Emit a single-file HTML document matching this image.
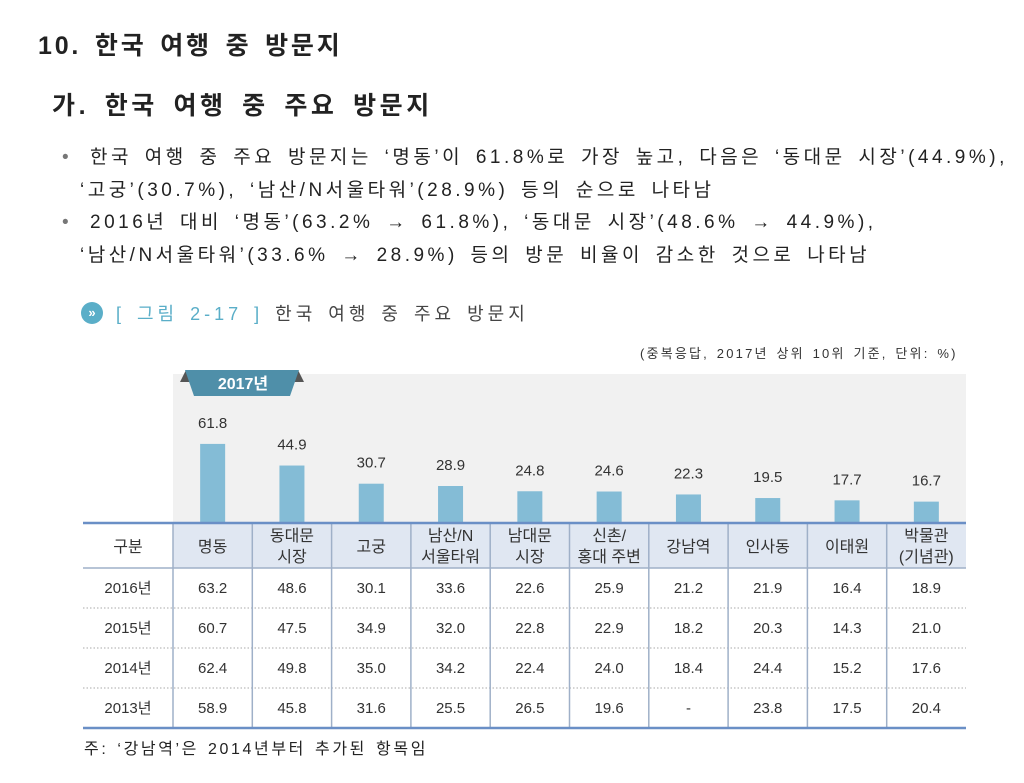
<!DOCTYPE html>
<html><head><meta charset="utf-8">
<style>
body{margin:0;width:1024px;height:783px;background:#fff;font-family:"Liberation Sans","Noto Sans CJK KR",sans-serif;color:#222;position:relative;overflow:hidden}
.a{position:absolute;white-space:nowrap}
</style></head><body>
<div class="a" style="left:38px;top:26px;font-size:25px;font-weight:bold;letter-spacing:2.8px;word-spacing:4px">10. 한국 여행 중 방문지</div>
<div class="a" style="left:52px;top:86px;font-size:25px;font-weight:bold;letter-spacing:3.6px;word-spacing:5px">가. 한국 여행 중 주요 방문지</div>
<div class="a" style="left:62px;top:141px;font-size:19px;line-height:33px;color:#777">•</div>
<div class="a" style="left:90px;top:141px;font-size:19px;line-height:33px;letter-spacing:3.5px;word-spacing:4px">한국 여행 중 주요 방문지는 ‘명동’이 61.8%로 가장 높고, 다음은 ‘동대문 시장’(44.9%),<br><span style="margin-left:-10px">‘고궁’(30.7%), ‘남산/N서울타워’(28.9%) 등의 순으로 나타남</span></div>
<div class="a" style="left:62px;top:206px;font-size:19px;line-height:33px;color:#777">•</div>
<div class="a" style="left:90px;top:206px;font-size:19px;line-height:33px;letter-spacing:3.5px;word-spacing:4px">2016년 대비 ‘명동’(63.2% → 61.8%), ‘동대문 시장’(48.6% → 44.9%),<br><span style="margin-left:-10px">‘남산/N서울타워’(33.6% → 28.9%) 등의 방문 비율이 감소한 것으로 나타남</span></div>
<div class="a" style="left:81px;top:302px;width:22px;height:22px;border-radius:50%;background:#5aaec8;color:#fff;font-size:13px;font-weight:bold;text-align:center;line-height:22px">»</div>
<div class="a" style="left:116px;top:300px;font-size:18px;color:#5aaec8;letter-spacing:4px;word-spacing:3px">[ 그림 2-17 ] <span style="color:#444">한국 여행 중 주요 방문지</span></div>
<div class="a" style="left:640px;top:343px;font-size:13px;color:#333;letter-spacing:2.2px;word-spacing:2px">(중복응답, 2017년 상위 10위 기준, 단위: %)</div>
<svg class="a" style="left:0;top:0" width="1024" height="783" id="svg"></svg>
<div class="a" style="left:84px;top:735px;font-size:16px;color:#222;letter-spacing:2.6px;word-spacing:2px">주: ‘강남역’은 2014년부터 추가된 항목임</div>
<script>
const categories=[["명동"],["동대문","시장"],["고궁"],["남산/N","서울타워"],["남대문","시장"],["신촌/","홍대 주변"],["강남역"],["인사동"],["이태원"],["박물관","(기념관)"]];
const values2017=[61.8,44.9,30.7,28.9,24.8,24.6,22.3,19.5,17.7,16.7];
const years=["2016년","2015년","2014년","2013년"];
const v2016=["63.2","48.6","30.1","33.6","22.6","25.9","21.2","21.9","16.4","18.9"];
const v2015=["60.7","47.5","34.9","32.0","22.8","22.9","18.2","20.3","14.3","21.0"];
const v2014=["62.4","49.8","35.0","34.2","22.4","24.0","18.4","24.4","15.2","17.6"];
const v2013=["58.9","45.8","31.6","25.5","26.5","19.6","-","23.8","17.5","20.4"];
const rows=[v2016,v2015,v2014,v2013];
const NS="http://www.w3.org/2000/svg",svg=document.getElementById('svg');
function el(t,a,txt){const e=document.createElementNS(NS,t);for(const k in a)e.setAttribute(k,a[k]);if(txt!==undefined)e.textContent=txt;svg.appendChild(e);return e;}
const x0=173,x1=966,cw=(x1-x0)/categories.length,base=523,scale=1.28;
const xc=i=>x0+cw*(i+0.5), y=v=>base-v*scale;
let e=el('rect',{x:x0,y:374,width:x1-x0,height:base-374,fill:'#f1f1f1'});

e=el('polygon',{points:'180,382 186,370 192,382',fill:'#555'});
e=el('polygon',{points:'292,382 298,370 304,382',fill:'#555'});
e=el('polygon',{points:'185,370 299,370 290,396 194,396',fill:'#4f8fa9'});
e=el('text',{x:243,y:389,'text-anchor':'middle','font-size':16,fill:'#fff','font-weight':'bold'},'2017년');
values2017.forEach((v,i)=>{
 let b=el('rect',{x:xc(i)-12.5,y:y(v),width:25,height:v*scale,fill:'#84bcd6'});
 
 let t=el('text',{x:xc(i),y:y(v)-16,'text-anchor':'middle','font-size':15,fill:'#333'},v.toFixed(1));
 
});
e=el('rect',{x:x0,y:base,width:x1-x0,height:45,fill:'#e0e7f2'});
e=el('text',{x:128,y:552,'text-anchor':'middle','font-size':16,fill:'#333'},'구분');
categories.forEach((c,i)=>{
 c.forEach((s,j)=>{let t=el('text',{x:xc(i),y:(c.length==1?552:541)+j*21,'text-anchor':'middle','font-size':16,fill:'#333'},s);
 });
});
const rowY=[568,608,648,688,728];
years.forEach((yr,r)=>{
 let cy=(rowY[r]+rowY[r+1])/2+5;
 let t=el('text',{x:128,y:cy,'text-anchor':'middle','font-size':15,fill:'#333'},yr);
 rows[r].forEach((v,i)=>{let c=el('text',{x:xc(i),y:cy,'text-anchor':'middle','font-size':15,fill:'#333'},v);});
 if(r<3){let l=el('line',{x1:83,x2:x1,y1:rowY[r+1],y2:rowY[r+1],stroke:'#aaa','stroke-dasharray':'1.5,2'});}
});
for(let i=0;i<categories.length;i++){let l=el('line',{x1:x0+cw*i,x2:x0+cw*i,y1:base,y2:728,stroke:'#9fb0c8','stroke-width':1.5});}
e=el('line',{x1:83,x2:x1,y1:base,y2:base,stroke:'#6a8fc6','stroke-width':2.5});
e=el('line',{x1:83,x2:x1,y1:568,y2:568,stroke:'#9fb0c8','stroke-width':1.5});
e=el('line',{x1:83,x2:x1,y1:728,y2:728,stroke:'#6a8fc6','stroke-width':2.5});
</script>
</body></html>
